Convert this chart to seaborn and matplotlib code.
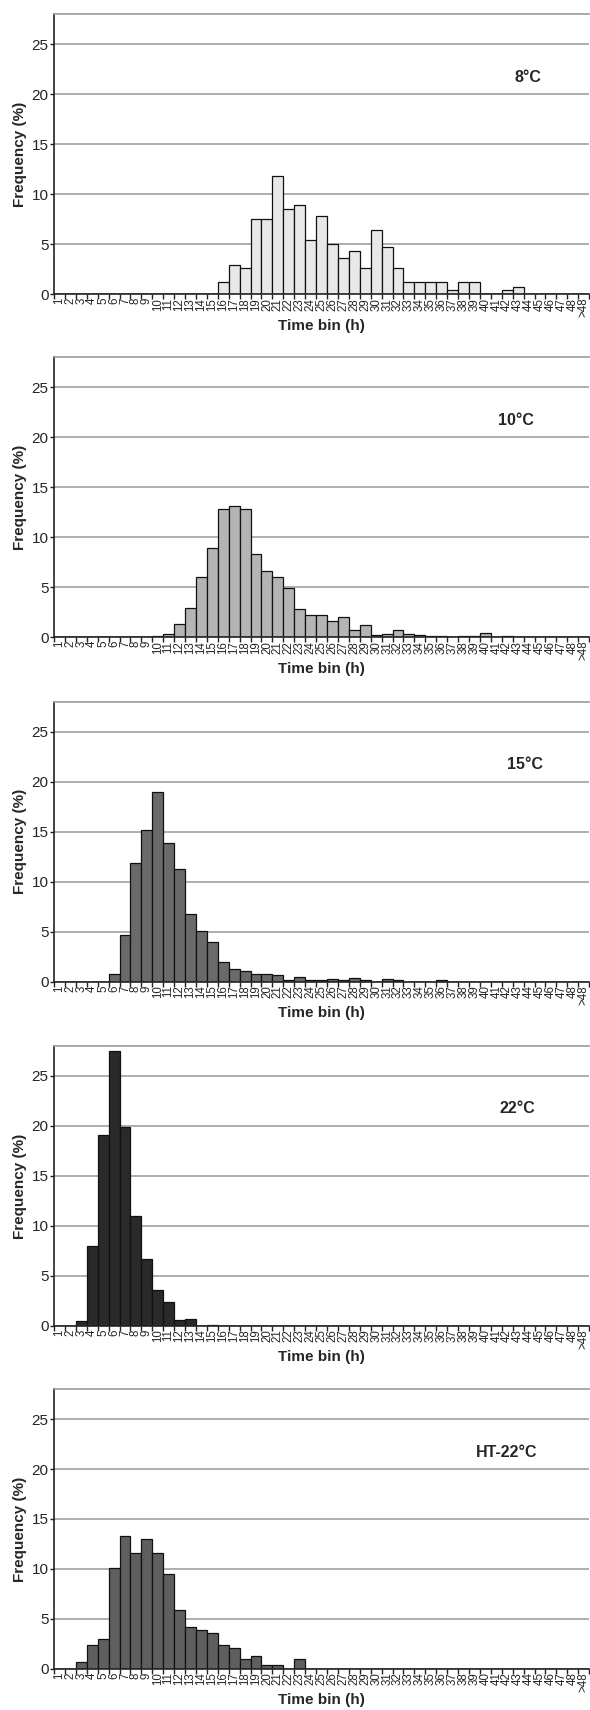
import matplotlib
matplotlib.use("Agg")
import matplotlib.pyplot as plt
import numpy as np
import pandas as pd
import seaborn as sns

sns.set_theme(style="white")
plt.rcParams["font.family"] = ["Liberation Sans", "DejaVu Sans"]

# time bins (h)
bins = [str(i) for i in range(1, 49)] + [">48"]

# frequency (%) per bin, one list per temperature
freq_8C = [0] * 15 + [1.2, 2.9, 2.6, 7.5, 7.5, 11.8, 8.5, 8.9, 5.4, 7.8, 5.0, 3.6, 4.3, 2.6,
                      6.4, 4.7, 2.6, 1.2, 1.2, 1.2, 1.2, 0.45, 1.2, 1.2, 0, 0, 0.45, 0.75] + [0] * 6
freq_10C = [0] * 9 + [0.15, 0.35, 1.35, 2.95, 6.0, 8.9, 12.85, 13.15, 12.85, 8.3, 6.65, 6.05,
                      4.9, 2.85, 2.25, 2.25, 1.65, 2.05, 0.75, 1.25, 0.25, 0.35, 0.75, 0.35,
                      0.25, 0.1, 0.1, 0, 0.1, 0.1, 0.45, 0, 0.1] + [0] * 7
freq_15C = [0] * 5 + [0.75, 4.65, 11.85, 15.2, 18.95, 13.85, 11.25, 6.8, 5.1, 4.0, 1.95, 1.25,
                      1.05, 0.75, 0.75, 0.65, 0.15, 0.45, 0.15, 0.15, 0.25, 0.15, 0.35, 0.15,
                      0, 0.25, 0.15, 0, 0, 0, 0.15] + [0] * 13
freq_22C = [0] * 2 + [0.5, 7.95, 19.1, 27.5, 19.85, 11.0, 6.7, 3.55, 2.35, 0.6, 0.7, 0,
                      0.12] + [0] * 34
freq_HT22C = [0] * 2 + [0.65, 2.4, 2.95, 10.05, 13.3, 11.55, 13.0, 11.55, 9.45, 5.9, 4.15,
                        3.85, 3.55, 2.4, 2.05, 0.95, 1.25, 0.35, 0.35, 0, 0.95] + [0] * 26

panels = [
    ("8°C", freq_8C, "#e8e8e8"),
    ("10°C", freq_10C, "#b4b4b4"),
    ("15°C", freq_15C, "#6a6a6a"),
    ("22°C", freq_22C, "#2a2a2a"),
    ("HT-22°C", freq_HT22C, "#5f5f5f"),
]
label_x = [0.886, 0.864, 0.88, 0.866, 0.845]

fig = plt.figure(figsize=(5.9, 17.1), dpi=100)
bottoms = [0.8279, 0.6273, 0.4259, 0.2246, 0.0240]

for (name, vals, color), bot, lx in zip(panels, bottoms, label_x):
    ax = fig.add_axes([0.0915, bot, 0.907, 0.1637])
    df = pd.DataFrame({"bin": bins, "freq": vals})
    sns.barplot(data=df, x="bin", y="freq", color=color, width=1.0,
                edgecolor="#111111", linewidth=0.9, saturation=1, ax=ax, zorder=2)
    ax.set_xlim(-0.5, len(bins) - 0.5)
    ax.set_ylim(0, 28)
    ax.set_yticks([0, 5, 10, 15, 20, 25])
    ax.yaxis.grid(True, color="#a8a8a8", linewidth=1.3)
    ax.set_axisbelow(True)

    # category labels between the tick marks
    ax.set_xticks(np.arange(len(bins)))
    ax.set_xticklabels(bins, rotation=90, fontsize=8.3)
    ax.set_xticks(np.arange(len(bins) + 1) - 0.5, minor=True)
    ax.tick_params(axis="x", which="major", length=0, pad=2.5)
    ax.tick_params(axis="x", which="minor", length=3.5, width=1, color="#222222",
                   direction="out", bottom=True)
    ax.tick_params(axis="y", length=3, width=1, color="#222222", direction="out",
                   left=True, labelsize=11, pad=1)

    for s in ["left", "bottom"]:
        ax.spines[s].set_color("#222222")
        ax.spines[s].set_linewidth(1.2)
    ax.spines["top"].set_color("#999999")
    ax.spines["top"].set_linewidth(1.2)
    ax.spines["right"].set_visible(False)

    ax.set_xlabel("Time bin (h)", fontsize=11, fontweight="bold", labelpad=1)
    ax.set_ylabel("Frequency (%)", fontsize=11, fontweight="bold", labelpad=3)
    ax.text(lx, 0.775, name, transform=ax.transAxes, ha="center", va="center",
            fontsize=11.5, fontweight="bold")

fig.savefig("out.png", dpi=100)
